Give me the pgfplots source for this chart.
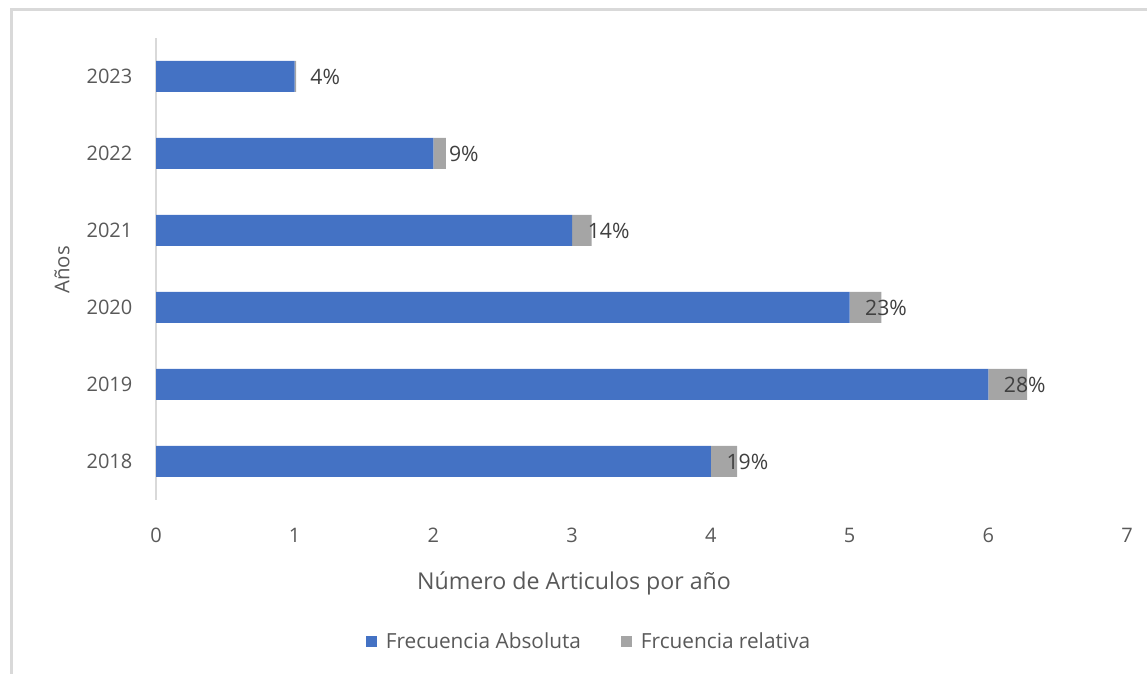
\documentclass[border=0pt]{standalone}
\usepackage{fontspec}
\setmainfont{Open Sans}
\usepackage{pgfplots}
\pgfplotsset{compat=1.18}
\definecolor{cblue}{HTML}{4472C4}
\definecolor{cgrey}{HTML}{A5A5A5}
\definecolor{cframe}{HTML}{D9D9D9}
\definecolor{ctick}{HTML}{595959}
\definecolor{clabel}{HTML}{404040}
\begin{document}
\begin{tikzpicture}
\useasboundingbox (0pt,0pt) rectangle (573.5pt,337pt);
\draw[cframe, line width=1.5pt] (5.5pt,0pt) -- (5.5pt,332.25pt) -- (573.5pt,332.25pt);
\begin{axis}[
  at={(78pt,87pt)}, anchor=south west,
  scale only axis, width=485.5pt, height=231pt,
  xbar stacked, bar width=15.5pt,
  xmin=0, xmax=7, ymin=-0.5, ymax=5.5,
  xtick={0,...,7},
  ytick={0,...,5},
  yticklabels={2018,2019,2020,2021,2022,2023},
  minor ytick={-0.5,0.5,...,5.5},
  major tick length=0pt, minor tick length=3.5pt,
  tick align=outside,
  axis y line*=left, axis x line*=bottom,
  x axis line style={draw=none},
  xtick style={draw=none},
  y axis line style={cframe, line width=0.75pt},
  ytick style={draw=none},
  minor y tick style={cframe, line width=0.75pt},
  /pgf/number format/assume math mode=true,
  tick label style={font=\fontsize{10}{12}\selectfont, text=ctick},
  yticklabel style={anchor=east, xshift=-8.3pt},
  xticklabel style={anchor=base, yshift=-21.5pt},
  xlabel={Número de Articulos por año},
  ylabel={Años},
  label style={font=\fontsize{11.6}{14}\selectfont, text=ctick},
  ylabel style={at={(axis description cs:-0.0968,0.498)}, anchor=center, rotate=0, font=\fontsize{10.2}{12}\selectfont},
  xlabel style={at={(axis description cs:0.4305,-0.18)}, anchor=center},
  legend style={at={(axis description cs:0.447,-0.307)}, anchor=center, draw=none,
    font=\fontsize{10.4}{12}\selectfont, text=ctick, legend columns=2,
    /tikz/every odd column/.append style={column sep=2.5pt},
    /tikz/every even column/.append style={column sep=18pt}},
  clip=false,
]
\addplot[fill=cblue, draw=none,
  legend image code/.code={\fill[cblue] (0pt,-2.75pt) rectangle (5.5pt,2.75pt);}]
coordinates {(4,0) (6,1) (5,2) (3,3) (2,4) (1,5)};
\addlegendentry{Frecuencia Absoluta}
\addplot[fill=cgrey, draw=none,
  legend image code/.code={\fill[cgrey] (0pt,-2.75pt) rectangle (5.5pt,2.75pt);}]
coordinates {(0.19,0) (0.28,1) (0.23,2) (0.14,3) (0.09,4) (0.01,5)};
\addlegendentry{Frcuencia relativa}
\addplot[draw=none, fill=none, forget plot,
  visualization depends on={y \as \yidx},
  nodes near coords, point meta=explicit symbolic,
  nodes near coords style={anchor=west,
    xshift={4.3pt-{0.19,0.28,0.23,0.14,0.09,0.01}[int(round(\yidx))]*69.357pt},
    text=clabel, font=\fontsize{10.6}{12}\selectfont}]
coordinates {(0.0001,0)[19\%] (0.0001,1)[28\%] (0.0001,2)[23\%] (0.0001,3)[14\%] (0.0001,4)[9\%] (0.0001,5)[4\%]};
\end{axis}
\end{tikzpicture}
\end{document}
